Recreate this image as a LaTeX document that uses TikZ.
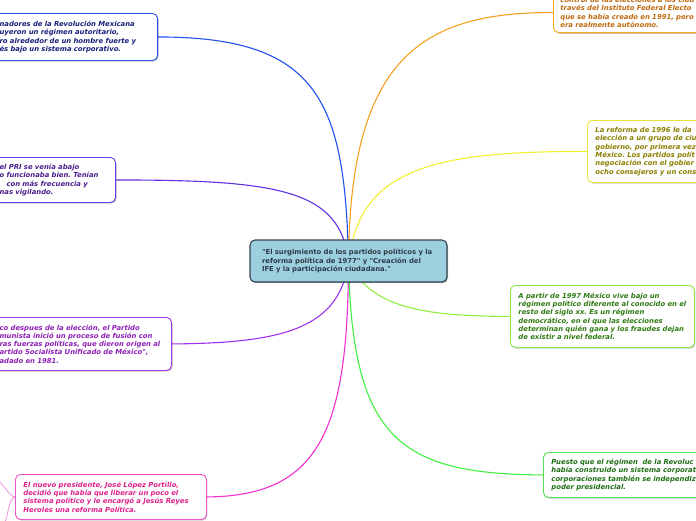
\documentclass[tikz,border=0pt]{standalone}
\usepackage{fontspec}
\setmainfont{DejaVu Sans}[Ligatures=TeXOff]
\usetikzlibrary{shadows,backgrounds}
\definecolor{lblue}{HTML}{2050F0}
\definecolor{bblue}{HTML}{2B4FE6}
\definecolor{tblue}{HTML}{1A1F7A}
\definecolor{lind}{HTML}{6030E0}
\definecolor{bind}{HTML}{6A3DE8}
\definecolor{tind}{HTML}{4B1E8C}
\definecolor{lpur}{HTML}{A030F0}
\definecolor{bpur}{HTML}{A63AE6}
\definecolor{tpur}{HTML}{8E1FB5}
\definecolor{lmag}{HTML}{F030D0}
\definecolor{bmag}{HTML}{F050C8}
\definecolor{tmag}{HTML}{E0208C}
\definecolor{lmag2}{HTML}{F590E0}
\definecolor{lora}{HTML}{F5A020}
\definecolor{bora}{HTML}{F5A623}
\definecolor{tora}{HTML}{C06A10}
\definecolor{lyel}{HTML}{F0F030}
\definecolor{byel}{HTML}{E8E23A}
\definecolor{tyel}{HTML}{8A7F00}
\definecolor{llim}{HTML}{90F040}
\definecolor{blim}{HTML}{8AE84A}
\definecolor{tlim}{HTML}{2F7A12}
\definecolor{lgre}{HTML}{40F040}
\definecolor{bgre}{HTML}{55E055}
\definecolor{tgre}{HTML}{1F6F14}
\definecolor{hubfill}{HTML}{9DD0DF}
\definecolor{hubdraw}{HTML}{34444F}
\definecolor{hubtext}{HTML}{2E3B48}
\frenchspacing
\begin{document}
\begin{tikzpicture}[x=1pt,y=-1pt,
  card/.style={draw, fill=white, rounded corners=5pt, line width=0.9pt,
    inner xsep=7pt, inner ysep=0pt, align=left,
    font=\fontsize{6.85}{8.3}\selectfont\bfseries\itshape,
    drop shadow={shadow xshift=1pt, shadow yshift=-1.2pt, opacity=0.35, fill=black!60}},
  hub/.style={draw=hubdraw, fill=hubfill, rounded corners=5pt, line width=1.1pt,
    inner xsep=12pt, inner ysep=0pt, align=left, text=hubtext,
    font=\fontsize{6.85}{8.3}\selectfont\bfseries,
    drop shadow={shadow xshift=1pt, shadow yshift=-1.2pt, opacity=0.4, fill=black!70}},
  link/.style={line width=1.1pt}]
\useasboundingbox (0,0) rectangle (696,520);
\clip (0,0) rectangle (696,520);

\node[hub, text width=173pt, minimum height=42pt] (c) at (348.5,261)
 {"El surgimiento de los partidos políticos y la\\reforma política de 1977" y "Creación del\\IFE y la participación ciudadana."};

\node[card, draw=bblue, text=tblue, text width=152pt, inner xsep=6pt, minimum height=47pt, anchor=north east] (b1) at (158,13)
 {nadores de la Revolución Mexicana\\uyeron un régimen autoritario,\\ro alrededor de un hombre fuerte y\\és bajo un sistema corporativo.};

\node[card, draw=bind, text=tind, text width=110pt, inner xsep=6pt, minimum height=45pt, anchor=north east] (b2) at (116,157)
 {el PRI se venía abajo\\o funcionaba bien. Tenían\\\hspace*{7pt}con más frecuencia y\\nas vigilando.};

\node[card, draw=bpur, text=tpur, text width=166pt, inner xsep=6pt, minimum height=53pt, anchor=north east] (b3) at (172,317)
 {co despues de la elección, el Partido\\munista inició un proceso de fusión con\\ras fuerzas políticas, que dieron origen al\\artido Socialista Unificado de México",\\adado en 1981.};

\node[card, draw=bmag, text=tmag, text width=175pt, inner xsep=8pt, minimum height=45pt, anchor=north west] (b4) at (15,474)
 {El nuevo presidente, José López Portillo,\\decidió que había que liberar un poco el\\sistema político y le encargó a Jesús Reyes\\Heroles una reforma Política.};

\node[card, draw=bora, text=tora, text width=200pt, inner xsep=7pt, minimum height=40pt, anchor=south west] (b5) at (553,33)
 {control de las elecciones a los ciud\\través del Instituto Federal Electo\\que se había creado en 1991, pero\\era realmente autónomo.};

\node[card, draw=byel, text=tyel, text width=200pt, inner xsep=8pt, minimum height=62pt, anchor=north west] (b6) at (587,120)
 {La reforma de 1996 le da\\elección a un grupo de ciu\\gobierno, por primera vez\\México. Los partidos polít\\negociación con el gobier\\ocho consejeros y un cons};

\node[card, draw=blim, text=tlim, text width=168pt, inner xsep=8pt, minimum height=62pt, anchor=north west] (b7) at (510,285)
 {A partir de 1997 México vive bajo un\\régimen político diferente al conocido en el\\resto del siglo xx. Es un régimen\\democrático, en el que las elecciones\\determinan quién gana y los fraudes dejan\\de existir a nivel federal.};

\node[card, draw=bgre, text=tgre, text width=200pt, inner xsep=8pt, minimum height=45pt, anchor=north west] (b8) at (543,452)
 {Puesto que el régimen\ \ de la Revoluc\\había construido un sistema corporat\\corporaciones también se independiz\\poder presidencial.};

\coordinate (m1) at (-4,478);
\coordinate (m2) at (4,525);

\begin{scope}[on background layer]
\draw[link, lblue] (c.center) .. controls (345,100) and (318,37) .. (b1.east);
\draw[link, lind] (c.center) .. controls (340,190) and (280,180) .. (b2.east);
\draw[link, lpur] (c.center) .. controls (340,330) and (280,343) .. (b3.east);
\draw[link, lmag] (c.center) .. controls (348,430) and (320,496) .. (b4.east);
\draw[link, lora] (c.center) .. controls (350,60) and (420,12) .. (b5.west);
\draw[link, lyel] (c.center) .. controls (360,170) and (430,151) .. (b6.west);
\draw[link, llim] (c.center) .. controls (370,310) and (430,316) .. (b7.west);
\draw[link, lgre] (c.center) .. controls (352,440) and (400,474) .. (b8.west);
\draw[line width=0.8pt, lmag2] (b4.west) .. controls (9,496) and (5,486) .. (m1);
\draw[line width=0.8pt, lmag2] (b4.west) .. controls (9,498) and (9,512) .. (m2);
\end{scope}
\end{tikzpicture}
\end{document}
